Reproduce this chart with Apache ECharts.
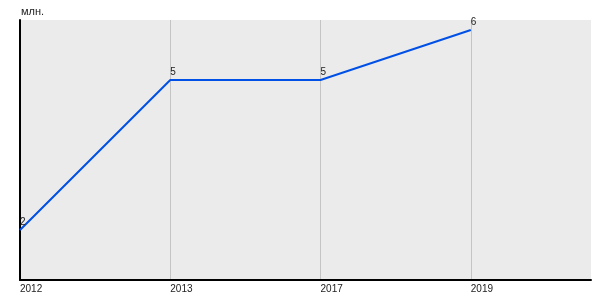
<!DOCTYPE html>
<html><head><meta charset="utf-8">
<script src="https://cdn.jsdelivr.net/npm/echarts@6/dist/echarts.min.js"></script>
<style>html,body{margin:0;padding:0;background:#fff}#c{width:600px;height:300px}</style>
</head><body><div id="c"></div>
<script>
const categories = ['2012', '2013', '2017', '2019'];
const values = [2, 5, 5, 6];
const unitLabel = 'млн.';

const chart = echarts.init(document.getElementById('c'), null, {renderer: 'canvas'});
chart.setOption({
  animation: false,
  title: {text: unitLabel, left: 16, top: 1, textStyle: {fontFamily: 'Liberation Sans', fontSize: 11, fontWeight: 'normal', color: '#222'}},
  grid: {left: 20, right: 9, top: 20, bottom: 20, show: true, backgroundColor: '#ebebeb', borderWidth: 0},
  xAxis: {
    type: 'value', min: 0, max: 3.8, interval: 1,
    axisLine: {show: true, onZero: false, lineStyle: {color: '#000', width: 2}},
    axisTick: {show: false},
    splitLine: {show: true, showMaxLine: false, lineStyle: {color: '#c4c4c4', width: 1}},
    axisLabel: {
      align: 'left', margin: 4, fontFamily: 'Liberation Sans', fontSize: 10, color: '#222',
      showMaxLabel: false,
      formatter: v => (Number.isInteger(v) && categories[v] !== undefined) ? categories[v] : ''
    }
  },
  yAxis: {
    type: 'value', min: 1, max: 6.2,
    axisLine: {show: true, lineStyle: {color: '#000', width: 2}},
    axisTick: {show: false}, axisLabel: {show: false}, splitLine: {show: false}
  },
  series: [{
    type: 'line',
    data: values.map((v, i) => [i, v]),
    showSymbol: true, symbol: 'circle', symbolSize: 1,
    itemStyle: {color: 'rgba(0,0,0,0)'},
    lineStyle: {color: '#0050e6', width: 2},
    label: {show: true, position: 'top', align: 'left', distance: 2, fontFamily: 'Liberation Sans', fontSize: 10, color: '#222'}
  }]
});
</script></body></html>
